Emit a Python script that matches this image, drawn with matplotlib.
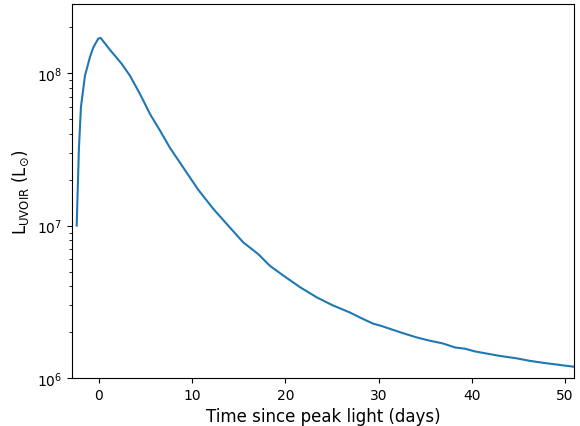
import matplotlib
matplotlib.use("Agg")
import matplotlib.pyplot as plt
import numpy as np

# bolometric (UVOIR) light curve
t_days = [-2.39, -2.15, -1.93, -1.5, -0.97, -0.61, -0.08, 0.18, 1.18, 2.44, 3.33,
          4.4, 5.47, 6.55, 7.6, 9.05, 10.65, 12.26, 13.87, 15.48, 17.1, 18.35,
          19.8, 21.6, 23.4, 25.1, 26.9, 28.0, 29.4, 30.3, 31.6, 32.65, 34.1,
          35.5, 36.9, 38.2, 39.3, 40.3, 41.6, 43.0, 44.8, 46.2, 47.7, 49.5,
          50.9, 52.0]
lum = [1.0e7, 3.2e7, 6.0e7, 9.6e7, 1.27e8, 1.47e8, 1.68e8, 1.70e8, 1.42e8, 1.15e8,
       9.6e7, 7.3e7, 5.4e7, 4.2e7, 3.25e7, 2.4e7, 1.72e7, 1.29e7, 1.0e7, 7.77e6,
       6.5e6, 5.45e6, 4.7e6, 3.94e6, 3.38e6, 3.0e6, 2.7e6, 2.5e6, 2.28e6, 2.2e6,
       2.07e6, 1.97e6, 1.85e6, 1.76e6, 1.69e6, 1.59e6, 1.56e6, 1.50e6, 1.45e6,
       1.40e6, 1.35e6, 1.30e6, 1.26e6, 1.22e6, 1.19e6, 1.17e6]

fig, ax = plt.subplots(figsize=(5.8, 4.27), dpi=100)
fig.subplots_adjust(left=0.124, right=0.99, top=0.988, bottom=0.112)

ax.plot(t_days, lum, color='#1f77b4', lw=1.5)
ax.set_yscale('log')
ax.set_xlim(-2.9, 51.0)
ax.set_ylim(1e6, 2.83e8)

ax.set_xlabel('Time since peak light (days)', fontsize=12)
ax.set_ylabel(r'L$_{\rm UVOIR}$ (L$_{\odot}$)', fontsize=12)

fig.savefig('out.png', dpi=100)
